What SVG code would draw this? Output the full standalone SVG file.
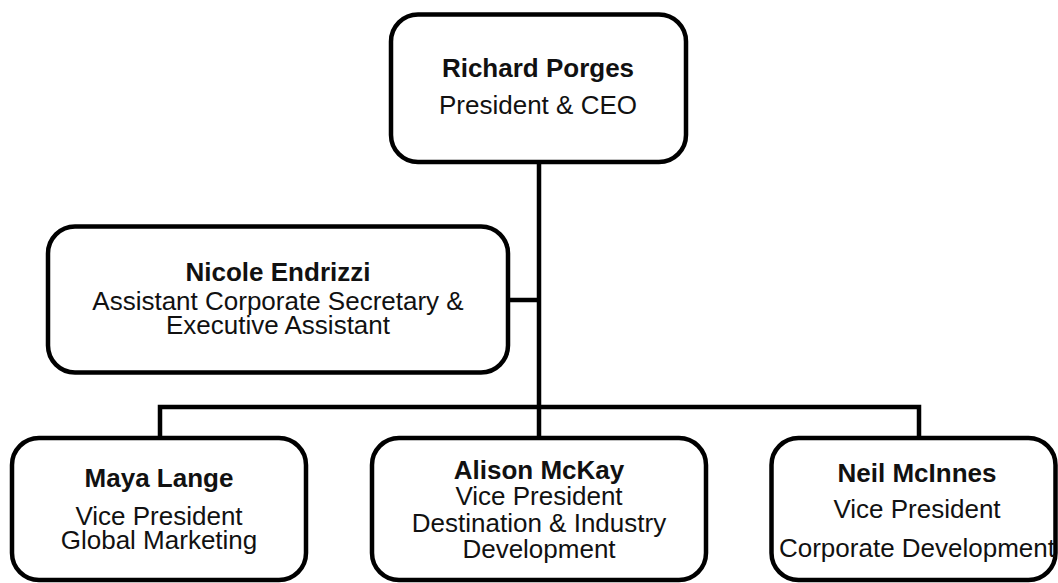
<svg xmlns="http://www.w3.org/2000/svg" width="1058" height="583" viewBox="0 0 1058 583">
  <style>
    .box { fill: #ffffff; stroke: #000000; stroke-width: 4.5; }
    .link { fill: none; stroke: #000000; stroke-width: 4.5; }
    text { font-family: "Liberation Sans", Arial, sans-serif; font-size: 26px; fill: #111111; text-anchor: middle; }
    .name { font-weight: bold; }
  </style>
  <rect width="1058" height="583" fill="#ffffff"/>

  <!-- reporting lines -->
  <g id="connectors">
    <path class="link" d="M539 162 V407"/>
    <path class="link" d="M508 300 H539"/>
    <path class="link" d="M160 438 V407 H919 V438"/>
    <path class="link" d="M539 407 V438"/>
  </g>

  <g id="ceo">
    <rect class="box" x="391" y="14.5" width="295" height="147.5" rx="27"/>
    <text x="538" y="77" class="name">Richard Porges</text>
    <text x="538" y="114">President &amp; CEO</text>
  </g>

  <g id="assistant">
    <rect class="box" x="48" y="226.5" width="460" height="146" rx="27"/>
    <text x="278" y="281" class="name">Nicole Endrizzi</text>
    <text x="278" y="310">Assistant Corporate Secretary &amp;</text>
    <text x="278" y="334">Executive Assistant</text>
  </g>

  <g id="vp-marketing">
    <rect class="box" x="12" y="438" width="294" height="142" rx="27"/>
    <text x="159" y="487" class="name">Maya Lange</text>
    <text x="159" y="525">Vice President</text>
    <text x="159" y="549">Global Marketing</text>
  </g>

  <g id="vp-destination">
    <rect class="box" x="372" y="438" width="334" height="142" rx="27"/>
    <text x="539" y="479" class="name">Alison McKay</text>
    <text x="539" y="505">Vice President</text>
    <text x="539" y="532">Destination &amp; Industry</text>
    <text x="539" y="558">Development</text>
  </g>

  <g id="vp-corporate">
    <rect class="box" x="771.5" y="438" width="284" height="142" rx="27"/>
    <text x="917" y="482" class="name">Neil McInnes</text>
    <text x="917" y="518">Vice President</text>
    <text x="917" y="557">Corporate Development</text>
  </g>
</svg>
